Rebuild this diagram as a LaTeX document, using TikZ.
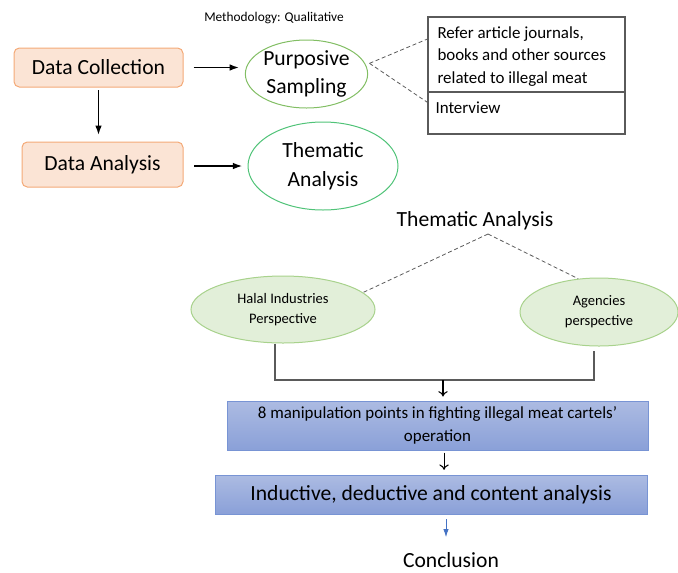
\documentclass[tikz,border=0pt]{standalone}
\usepackage{fontspec}
\setmainfont{Carlito}
\usetikzlibrary{shapes.geometric,arrows.meta}

\definecolor{orfill}{RGB}{251,228,213}
\definecolor{ordraw}{RGB}{244,170,120}
\definecolor{psdraw}{RGB}{130,190,100}
\definecolor{tadraw}{RGB}{80,195,120}
\definecolor{gnfill}{RGB}{226,239,217}
\definecolor{gndraw}{RGB}{168,210,140}
\definecolor{bltop}{RGB}{172,187,226}
\definecolor{blbot}{RGB}{138,160,216}
\definecolor{bldraw}{RGB}{120,148,212}
\definecolor{blarrow}{RGB}{68,114,196}
\definecolor{grline}{RGB}{90,90,90}

\tikzset{every picture/.style={line width=0.75pt}}
\tikzset{
  stagebox/.style={draw=ordraw, fill=orfill, rounded corners=4pt, inner sep=0pt, font=\fontsize{16.2}{19}\selectfont},
  methoval/.style={ellipse, inner sep=0pt, align=center},
  srcbox/.style={draw=grline, line width=0.9pt, inner sep=0pt, minimum width=147.75pt},
  viewoval/.style={ellipse, draw=gndraw, fill=gnfill, inner sep=0pt, align=center, font=\fontsize{10.9}{15}\selectfont},
  resultbox/.style={draw=bldraw, top color=bltop, bottom color=blbot, inner sep=0pt, align=center},
  flow/.style={-{Latex[length=7pt,width=5pt]}, line width=1pt},
  openflow/.style={-{To[length=4pt,width=7pt]}, line width=0.8pt},
  linkdash/.style={dashed, dash pattern=on 3pt off 2pt, draw=grline, line width=0.6pt}
}

\begin{document}
\begin{tikzpicture}[x=0.75pt,y=0.75pt,yscale=-1,xscale=1]
\useasboundingbox (0,0) rectangle (678,572);

% Top row
\node (meth) at (274,18) [font=\fontsize{10}{12}\selectfont] {Methodology: Qualitative};
\node [stagebox, minimum width=126.75pt, minimum height=29.25pt] (dcol) at (98.5,67.5) {Data Collection};
\node [stagebox, minimum width=120.75pt, minimum height=33.75pt] (dana) at (102.5,164.5) {Data Analysis};
\node [methoval, draw=psdraw, minimum width=86.25pt, minimum height=51pt, font=\fontsize{16.2}{21}\selectfont] (psamp) at (306.5,74) {Purposive\\Sampling};
\node [methoval, draw=tadraw, minimum width=112.5pt, minimum height=66pt, font=\fontsize{16.2}{21.75}\selectfont] (tana) at (323,166) {Thematic\\Analysis};

% Sources
\node [srcbox, minimum height=56.25pt] (refer) at (526.5,54.5) {};
\node [anchor=north west, inner sep=0pt, align=left, font=\fontsize{12.7}{17}\selectfont] (refertxt) at (437,26) {Refer article journals,\\books and other sources\\related to illegal meat};
\node [srcbox, minimum height=31.5pt] (intv) at (526.5,113) {};
\node [anchor=north west, inner sep=0pt, font=\fontsize{12.7}{15}\selectfont] (intvtxt) at (435,101) {Interview};

\draw [flow, shorten <=7.5pt, shorten >=4.5pt] (dcol.east) -- (psamp.west |- dcol.east);
\draw [flow, shorten <=2pt, shorten >=5pt] (dcol.south) -- (dcol.south |- dana.north);
\draw [flow, shorten <=8pt, shorten >=4pt] (dana.east |- tana.west) -- (tana.west);
\draw [linkdash] ([xshift=1pt,yshift=-8pt]psamp.east) -- ([yshift=-11.6pt]refer.west);
\draw [linkdash] ([xshift=1pt,yshift=-8pt]psamp.east) -- ([yshift=-8pt]intv.west);

% Thematic analysis
\node (ttl) at (475,221) [font=\fontsize{16.2}{19}\selectfont] {Thematic Analysis};
\coordinate (apex) at (488,234);
\node [viewoval, minimum width=138pt, minimum height=50.25pt] (halal) at (283,309.5) {Halal Industries\\Perspective};
\node [viewoval, minimum width=118.5pt, minimum height=51pt] (agen) at (599,312) {Agencies\\perspective};
\draw [linkdash] (apex) -- (halal.12);
\draw [linkdash] (apex) -- (agen.122);

\coordinate (join) at (443,380);
\draw [grline, line width=0.9pt] ([xshift=-6pt]halal.south) |- (join) -| ([xshift=-3.75pt,yshift=3pt]agen.south);

% Results
\node [resultbox, minimum width=315.75pt, minimum height=36.75pt, font=\fontsize{12.7}{17}\selectfont] (manip) at (437.5,425.5) {8 manipulation points in fighting illegal meat cartels’\\operation};
\node [resultbox, minimum width=324pt, minimum height=29.25pt, font=\fontsize{16.2}{19}\selectfont] (induct) at (431,494.5) {Inductive, deductive and content analysis};
\node (concl) at (451,560) [font=\fontsize{16.2}{19}\selectfont] {Conclusion};

\draw [openflow, shorten >=3pt] (join) -- (join |- manip.north);
\draw [openflow, shorten <=1.5pt, shorten >=3.5pt] ([xshift=4.9pt]manip.south) -- ([xshift=4.9pt]manip.south |- induct.north);
\draw [-{Latex[length=6pt,width=4pt]}, blarrow, line width=0.6pt] ([xshift=11.25pt,yshift=3.5pt]induct.south) -- ([xshift=11.25pt,yshift=17pt]induct.south);

\end{tikzpicture}
\end{document}
